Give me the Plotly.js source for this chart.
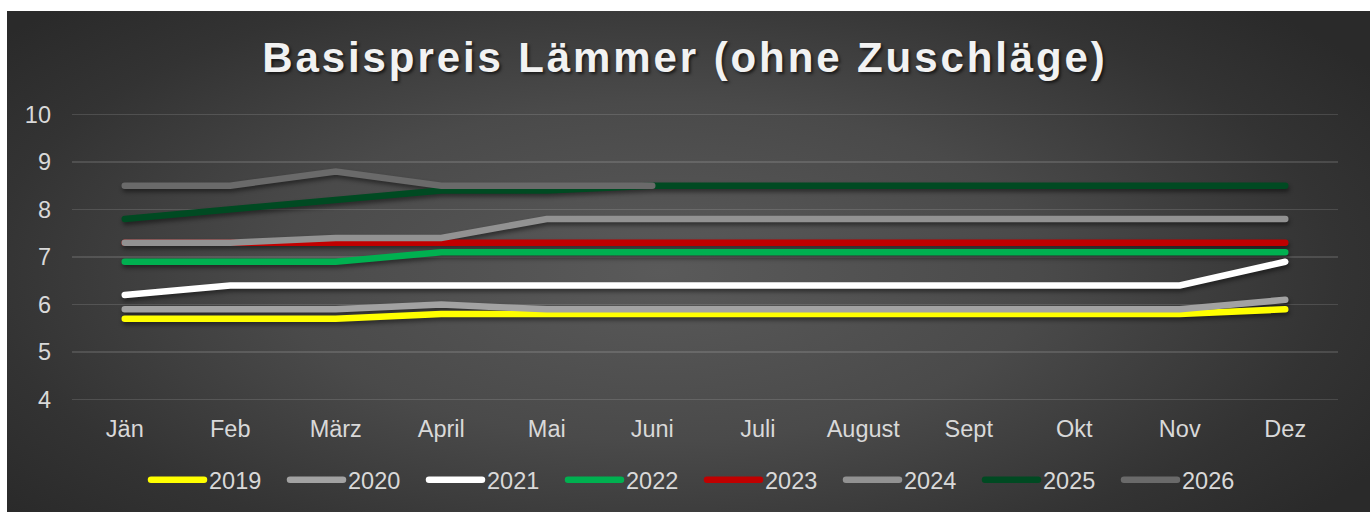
<!DOCTYPE html>
<html>
<head>
<meta charset="utf-8">
<script src="https://cdn.plot.ly/plotly-3.0.1.min.js"></script>
<style>
  html, body { margin: 0; padding: 0; background: #ffffff; }
  #bg {
    position: absolute; left: 7px; top: 11px; width: 1363px; height: 501px;
    background: radial-gradient(ellipse 62% 75% at 48% 52%, #5a5a5a 0%, #4a4a4a 45%, #333333 80%, #2a2a2a 100%);
  }
  #chart { position: absolute; left: 0; top: 0; width: 1370px; height: 512px; }
  .gtitle { letter-spacing: 2.9px; }
  path.js-line { stroke-linecap: round; }
  .scatterlayer { filter: drop-shadow(1px 3px 2px rgba(0,0,0,0.45)); }
</style>
</head>
<body>
<div id="bg"></div>
<div id="chart"></div>
<script>
const months = ["Jän","Feb","März","April","Mai","Juni","Juli","August","Sept","Okt","Nov","Dez"];
const yearNames = ["2019","2020","2021","2022","2023","2024","2025","2026"];

const v2019 = [5.7,5.7,5.7,5.8,5.8,5.8,5.8,5.8,5.8,5.8,5.8,5.9];
const v2020 = [5.9,5.9,5.9,6.0,5.9,5.9,5.9,5.9,5.9,5.9,5.9,6.1];
const v2021 = [6.2,6.4,6.4,6.4,6.4,6.4,6.4,6.4,6.4,6.4,6.4,6.9];
const v2022 = [6.9,6.9,6.9,7.1,7.1,7.1,7.1,7.1,7.1,7.1,7.1,7.1];
const v2023 = [7.3,7.3,7.3,7.3,7.3,7.3,7.3,7.3,7.3,7.3,7.3,7.3];
const v2024 = [7.3,7.3,7.4,7.4,7.8,7.8,7.8,7.8,7.8,7.8,7.8,7.8];
const v2025 = [7.8,8.0,8.2,8.4,8.4,8.5,8.5,8.5,8.5,8.5,8.5,8.5];
const v2026 = [8.5,8.5,8.8,8.5,8.5,8.5,null,null,null,null,null,null];

const yTicks = [4,5,6,7,8,9,10];

const seriesValues = [v2019,v2020,v2021,v2022,v2023,v2024,v2025,v2026];
const seriesColors = ["#ffff00","#a2a2a2","#ffffff","#00b050","#c00000","#929292","#004a22","#6a6a6a"];

const traces = yearNames.map((name, i) => ({
  type: "scatter",
  mode: "lines",
  name: name,
  x: months,
  y: seriesValues[i],
  line: { color: seriesColors[i], width: 6.5, shape: "linear" },
  connectgaps: false,
  hoverinfo: "skip"
}));

const fontFam = "Liberation Sans, Arial, sans-serif";

const layout = {
  width: 1370,
  height: 512,
  paper_bgcolor: "rgba(0,0,0,0)",
  plot_bgcolor: "rgba(0,0,0,0)",
  margin: { l: 72, r: 32, t: 112, b: 110, pad: 0 },
  title: {
    text: "Basispreis Lämmer (ohne Zuschläge)",
    font: { family: fontFam, size: 42, color: "#f2f2f2", weight: 700, shadow: "2px 2px 3px rgba(0,0,0,0.6)" },
    x: 0.5, xref: "container", xanchor: "center",
    y: 1 - 57/512, yref: "container", yanchor: "middle"
  },
  xaxis: {
    type: "category",
    categoryorder: "array",
    categoryarray: months,
    range: [-0.5, 11.5],
    showgrid: false,
    zeroline: false,
    showline: false,
    ticks: "",
    ticklabelstandoff: 10,
    tickfont: { family: fontFam, size: 23.5, color: "#d9d9d9" },
    fixedrange: true
  },
  yaxis: {
    range: [3.95, 10.05],
    tickvals: yTicks,
    ticktext: yTicks.map(String),
    showgrid: true,
    gridcolor: "rgba(255,255,255,0.13)",
    gridwidth: 1.3,
    zeroline: false,
    showline: false,
    ticks: "",
    ticklabelstandoff: 20,
    tickfont: { family: fontFam, size: 23.5, color: "#d9d9d9" },
    fixedrange: true
  },
  showlegend: true,
  legend: {
    orientation: "h",
    x: 702/1370, xref: "container", xanchor: "center",
    y: 1 - 480/512, yref: "container", yanchor: "middle",
    font: { family: fontFam, size: 23.5, color: "#d9d9d9" },
    bgcolor: "rgba(0,0,0,0)",
    entrywidth: 71,
    entrywidthmode: "pixels",
    itemwidth: 53,
    tracegroupgap: 0
  },
  hovermode: false
};

Plotly.newPlot("chart", traces, layout, { displayModeBar: false, staticPlot: true });
</script>
</body>
</html>
